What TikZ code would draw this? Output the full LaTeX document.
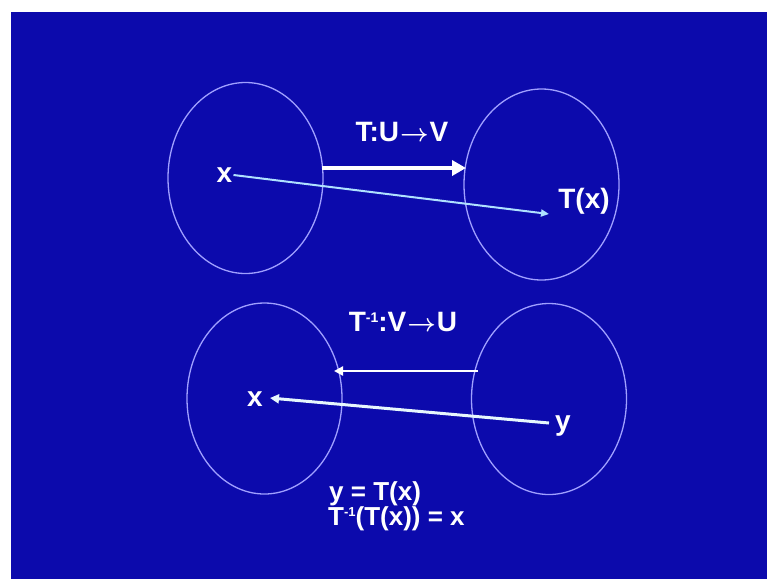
\documentclass[tikz,border=0pt]{standalone}
\usepackage{fontspec}
\setmainfont{Liberation Sans}
\usetikzlibrary{shapes.geometric,arrows.meta}
\definecolor{bgblue}{RGB}{12,10,172}
\definecolor{rim}{RGB}{160,160,255}
\definecolor{cyanline}{RGB}{175,225,255}
\newcommand{\mapto}{\kern1pt{\boldmath$\rightarrow$}\kern1pt}
\tikzset{
  setrim/.style={draw=rim,line width=1.3pt,ellipse,inner sep=0pt,minimum width=155pt,minimum height=191pt},
  lbl/.style={text=white,font=\bfseries\fontsize{28}{30}\selectfont,inner sep=0pt},
  eqn/.style={text=white,font=\bfseries\fontsize{26}{28}\selectfont,inner sep=0pt,anchor=base west},
  bigarrow/.style={draw=white,line width=4.5pt,-{Triangle[length=14pt,width=15pt]}},
  thinarrow/.style={draw=white,line width=2.5pt,-{Triangle[length=9pt,width=9pt]}},
  maparrow/.style={draw=cyanline,line width=2pt,-{Triangle[length=8pt,width=7pt]}},
  backarrow/.style={draw=white!90!cyan,line width=3pt,-{Triangle[length=9pt,width=9pt]}}
}
\begin{document}
\begin{tikzpicture}[x=1pt,y=-1pt]
\useasboundingbox (0,0) rectangle (767,579);
\fill[white] (0,0) rectangle (767,579);
\fill[bgblue] (11,12) rectangle (767,579);
% sets
\node[setrim] (U1) at (245.5,178) {};
\node[setrim] (V1) at (541.5,184.5) {};
\node[setrim] (U2) at (264.5,398.5) {};
\node[setrim] (V2) at (549,399) {};
% labels
\node[lbl] (lab1) at (402,132) {T:U\mapto V};
\node[lbl] (x1) at (224.5,175) {x};
\node[lbl] (Tx) at (584,201) {T(x)};
\node[lbl] (lab2) at (403,322) {T\raisebox{9pt}{\fontsize{14}{14}\selectfont -1}:V\mapto U};
\node[lbl] (x2) at (255,399) {x};
\node[lbl] (y2) at (563,426) {y};
\node[eqn] (eq1) at (329,500) {y = T(x)};
\node[eqn] (eq2) at (328,525) {T\raisebox{9pt}{\fontsize{13}{13}\selectfont -1}(T(x)) = x};
% connector end points
\coordinate (a1s) at (322,168);
\coordinate (a1e) at (466,168);
\coordinate (a2s) at (478,371);
\coordinate (a2e) at (334,371);
\coordinate (m1e) at (549,214);
\coordinate (m2s) at (549,423);
\coordinate (m2e) at (270,398);
% arrows
\draw[bigarrow] (a1s) -- (a1e);
\draw[maparrow] (x1.east) ++(1,0) -- (m1e);
\draw[thinarrow] (a2s) -- (a2e);
\draw[backarrow] (m2s) -- (m2e);
\end{tikzpicture}
\end{document}
